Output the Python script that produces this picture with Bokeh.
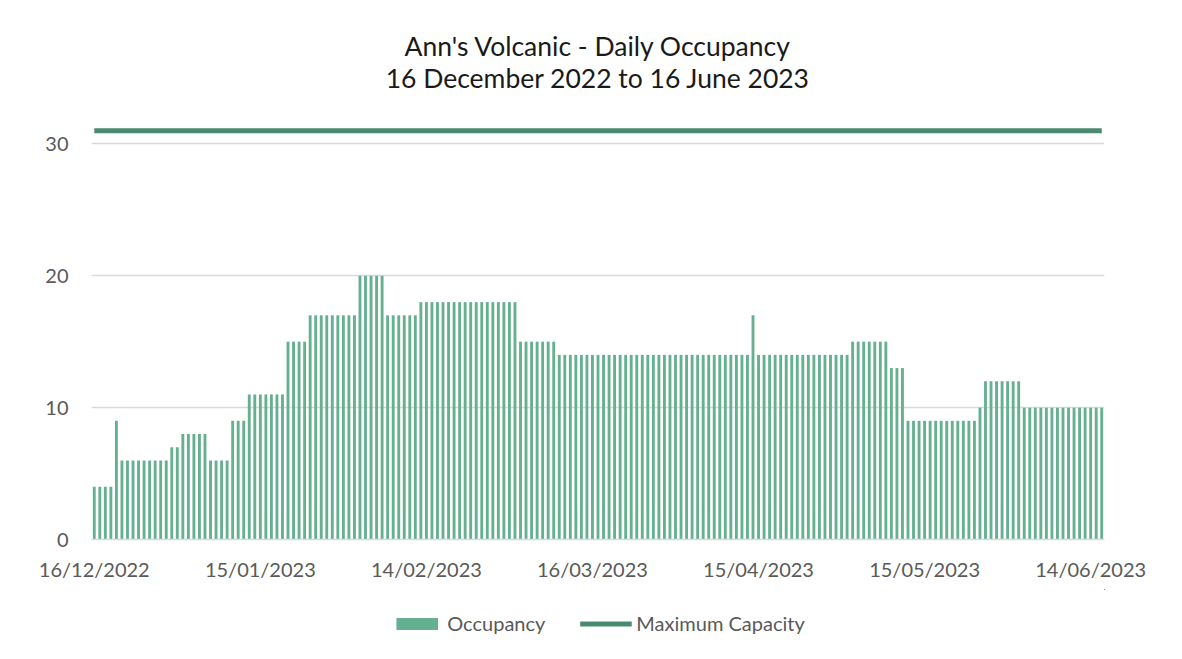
from bokeh.plotting import figure
from bokeh.layouts import column
from bokeh.models import FixedTicker, Title, Legend, LegendItem, ColumnDataSource, Range1d
from bokeh.embed import file_html
from bokeh.resources import INLINE

# ---- data ----
title_line1 = "Ann's Volcanic - Daily Occupancy"
title_line2 = "16 December 2022 to 16 June 2023"

# one value per day, 16/12/2022 ... 16/06/2023 (183 days)
occupancy = [
    4, 4, 4, 4, 9, 6, 6, 6, 6, 6, 6, 6, 6, 6, 7, 7, 8, 8, 8, 8,
    8, 6, 6, 6, 6, 9, 9, 9, 11, 11, 11, 11, 11, 11, 11, 15, 15, 15, 15, 17,
    17, 17, 17, 17, 17, 17, 17, 17, 20, 20, 20, 20, 20, 17, 17, 17, 17, 17, 17, 18,
    18, 18, 18, 18, 18, 18, 18, 18, 18, 18, 18, 18, 18, 18, 18, 18, 18, 15, 15, 15,
    15, 15, 15, 15, 14, 14, 14, 14, 14, 14, 14, 14, 14, 14, 14, 14, 14, 14, 14, 14,
    14, 14, 14, 14, 14, 14, 14, 14, 14, 14, 14, 14, 14, 14, 14, 14, 14, 14, 14, 17,
    14, 14, 14, 14, 14, 14, 14, 14, 14, 14, 14, 14, 14, 14, 14, 14, 14, 15, 15, 15,
    15, 15, 15, 15, 13, 13, 13, 9, 9, 9, 9, 9, 9, 9, 9, 9, 9, 9, 9, 9,
    10, 12, 12, 12, 12, 12, 12, 12, 10, 10, 10, 10, 10, 10, 10, 10, 10, 10, 10, 10,
    10, 10, 10,
]
max_capacity = [31] * len(occupancy)
day_index = list(range(len(occupancy)))

tick_positions = [0, 30, 60, 90, 120, 150, 180]
tick_labels = ["16/12/2022", "15/01/2023", "14/02/2023", "16/03/2023",
               "15/04/2023", "15/05/2023", "14/06/2023"]
y_ticks = [0, 10, 20, 30]
series_names = ["Occupancy", "Maximum Capacity"]

# ---- styling ----
FONT = "Lato"
BAR_COLOR = "#66b092"
LINE_COLOR = "#4a8a6f"
GRID_COLOR = "#d9d9d9"
TEXT_COLOR = "#595959"

src = ColumnDataSource(dict(day=day_index, occ=occupancy, cap=max_capacity))

p = figure(frame_width=1013, frame_height=422, output_backend="svg", toolbar_location=None,
           title=None,
           x_range=Range1d(-0.5, len(occupancy) - 0.5), y_range=Range1d(0, 32),
           min_border_left=91, min_border_right=62, min_border_top=117,
           min_border_bottom=50)
p.outline_line_color = None
p.background_fill_color = "white"
p.border_fill_color = "white"

bars = p.vbar(x="day", top="occ", width=0.52, source=src,
              fill_color=BAR_COLOR, line_color=None)
cap_line = p.line(x="day", y="cap", source=src, line_color=LINE_COLOR, line_width=5)

# axes
p.xaxis.ticker = FixedTicker(ticks=tick_positions)
p.xaxis.major_label_overrides = {t: l for t, l in zip(tick_positions, tick_labels)}
p.xaxis.axis_line_color = GRID_COLOR
p.xaxis.axis_line_width = 1.5
p.xaxis.major_tick_line_color = None
p.xaxis.minor_tick_line_color = None
p.xaxis.major_tick_out = 0
p.xaxis.major_label_standoff = 17
p.xaxis.major_label_text_font = FONT
p.xaxis.major_label_text_font_size = "20px"
p.xaxis.major_label_text_color = TEXT_COLOR

p.yaxis.ticker = FixedTicker(ticks=y_ticks)
p.yaxis.axis_line_color = None
p.yaxis.major_tick_line_color = None
p.yaxis.minor_tick_line_color = None
p.yaxis.major_tick_out = 0
p.yaxis.major_label_standoff = 23
p.yaxis.major_label_text_font = FONT
p.yaxis.major_label_text_font_size = "20px"
p.yaxis.major_label_text_color = TEXT_COLOR

p.xgrid.visible = False
p.ygrid.grid_line_color = GRID_COLOR
p.ygrid.grid_line_width = 1.5

# two-line title, lines centred on each other
title_kw = dict(align="center", text_font=FONT, text_font_size="26.5px",
                text_font_style="normal", text_color="#1a1a1a")
try:
    t = Title(text=title_line1 + "\n" + title_line2, standoff=48, **title_kw)
    t.text_align = "center"
    p.add_layout(t, "above")
except Exception:
    p.add_layout(Title(text=title_line2, standoff=37, **title_kw), "above")
    t1 = Title(text=title_line1, **title_kw)
    try:
        t1.standoff = -7
    except Exception:
        t1.standoff = 0
    p.add_layout(t1, "above")

# ---- legend strip below the chart ----
# same series and glyph styles as the chart; its view ranges lie outside the
# data in both directions so only the legend swatches show
leg = figure(width=p.frame_width + 91 + 62, height=68, output_backend="svg",
             toolbar_location=None, title=None,
             x_range=Range1d(-3, -2), y_range=Range1d(-3, -2), min_border=0)
leg.axis.visible = False
leg.grid.visible = False
leg.outline_line_color = None
leg.background_fill_color = "white"
leg.border_fill_color = "white"
leg_bar = leg.vbar(x="day", top="occ", width=0.52, source=src,
                   fill_color=BAR_COLOR, line_color=None)
leg_line = leg.line(x="day", y="cap", source=src, line_color=LINE_COLOR, line_width=5)

legend = Legend(items=[LegendItem(label=series_names[0], renderers=[leg_bar]),
                       LegendItem(label=series_names[1], renderers=[leg_line])],
                orientation="horizontal", location="center",
                glyph_width=52, glyph_height=15, spacing=34, label_standoff=5,
                padding=0, margin=0, border_line_color=None,
                label_text_font=FONT, label_text_font_size="20px",
                label_text_color=TEXT_COLOR, background_fill_alpha=0)
leg.add_layout(legend, "center")

layout = column(p, leg, spacing=0)
open("out.html", "w").write(file_html(layout, INLINE))
